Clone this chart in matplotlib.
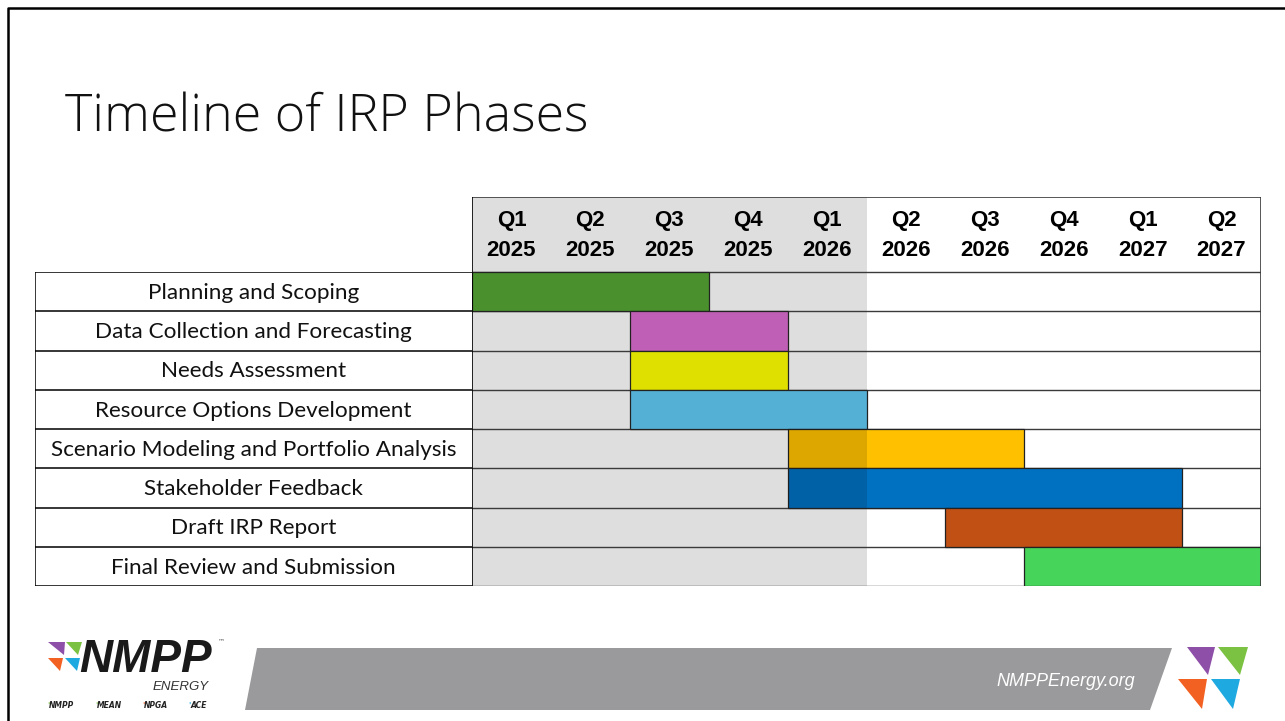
import matplotlib
matplotlib.use("Agg")
import matplotlib.pyplot as plt  # noqa: E402
from matplotlib.patches import Polygon  # noqa: E402

W, H = 1285, 721

quarters = ["Q1\n2025", "Q2\n2025", "Q3\n2025", "Q4\n2025", "Q1\n2026",
            "Q2\n2026", "Q3\n2026", "Q4\n2026", "Q1\n2027", "Q2\n2027"]
phases = ["Planning and Scoping", "Data Collection and Forecasting", "Needs Assessment",
          "Resource Options Development", "Scenario Modeling and Portfolio Analysis",
          "Stakeholder Feedback", "Draft IRP Report", "Final Review and Submission"]
start_q = [0, 2, 2, 2, 4, 4, 6, 7]
length_q = [3, 2, 2, 3, 3, 5, 3, 3]
n_shaded = 5  # Q1 2025 .. Q1 2026 greyed out

COLORS = ["#4a912d", "#bf5fb5", "#e0e000", "#55b0d6", "#ffc000",
          "#0070c0", "#c05014", "#47d45a"]
DIMMED = [False, False, False, False, True, True, False, False]
GREY_CELL = "#dedede"
LINE = "#3a3a3a"
PURPLE, LIME, ORANGE, CYAN = "#8e4fa8", "#7cc242", "#f26122", "#1fa9e1"


def px_axes(fig, x0, y0, x1, y1):
    return fig.add_axes([x0 / W, 1 - y1 / H, (x1 - x0) / W, (y1 - y0) / H])


fig = plt.figure(figsize=(W / 100, H / 100), dpi=100)

# background / decoration layer in pixel coords
bg = px_axes(fig, 0, 0, W, H)
bg.set_xlim(0, W); bg.set_ylim(H, 0); bg.axis("off")
bg.plot([8, 8, W], [H, 8, 8], color="black", lw=1.8, solid_capstyle="butt")
bg.text(65, 118, "Timeline of IRP Phases", fontsize=37.5, family="Open Sans",
        fontweight="light", va="center", ha="left", color="#111111")

# footer banner
bg.add_patch(Polygon([(245, 710), (257, 648), (1172, 648), (1150, 710)],
                     closed=True, color="#9a9a9c", lw=0))
bg.text(1135, 681, "NMPPEnergy.org", fontsize=13, style="italic", color="white",
        family="Liberation Sans", ha="right", va="center")
# right logo triangles
for pts, c in [([(1187, 647), (1215, 647), (1208, 675)], PURPLE),
               ([(1218, 647), (1248, 647), (1240, 675)], LIME),
               ([(1178, 679), (1207, 679), (1202, 709)], ORANGE),
               ([(1211, 679), (1240, 679), (1233, 709)], CYAN)]:
    bg.add_patch(Polygon(pts, closed=True, color=c, lw=0))
# left logo
for pts, c in [([(48, 642), (65, 642), (64, 655)], PURPLE),
               ([(66, 642), (82, 642), (78, 655)], LIME),
               ([(48, 658), (63, 658), (60, 671)], ORANGE),
               ([(65, 658), (80, 658), (77, 671)], CYAN)]:
    bg.add_patch(Polygon(pts, closed=True, color=c, lw=0))
bg.text(79, 672, "NMPP", fontsize=33, fontweight="heavy", style="italic",
        family="Liberation Sans", color="#1a1a1a", ha="left", va="baseline")
bg.text(218, 641, "™", fontsize=5, color="#555555", ha="left", va="center")
bg.text(209, 690, "ENERGY", fontsize=9.5, style="italic", family="Liberation Sans",
        color="#333333", ha="right", va="baseline")
for x, s, c in [(47, "NMPP", LIME), (95, "MEAN", LIME), (142, "NPGA", ORANGE),
                (188, "ACE", CYAN)]:
    bg.text(x, 706, "'", fontsize=5.5, fontweight="bold", color=c,
            ha="left", va="center")
    bg.text(x + 2, 706, s, fontsize=5.5, fontweight="bold", style="italic",
            color="#222222", ha="left", va="center")

# gantt grid
n = len(phases)
hdr = 75 / 39.25
ax = px_axes(fig, 472, 197, 1261, 586)
ax.set_xlim(0, len(quarters)); ax.set_ylim(n, -hdr); ax.axis("off")
ax.axvspan(0, n_shaded, color=GREY_CELL, lw=0, zorder=0)
for i, q in enumerate(quarters):
    ax.text(i + 0.5, -hdr / 2 + 0.03, q, ha="center", va="center", fontsize=16,
            fontweight="bold", family="Liberation Sans", linespacing=1.6)
for i in range(n + 1):
    ax.axhline(i, color=LINE, lw=1, zorder=1)
ax.axhline(-hdr, color=LINE, lw=1.2, zorder=1)
ax.axvline(0, color="black", lw=1.2, zorder=4)
ax.axvline(len(quarters), color=LINE, lw=1.2, zorder=4)

ypos = [i + 0.5 for i in range(n)]
ax.barh(ypos, length_q, left=start_q, height=1, color=COLORS,
        edgecolor="#222222", lw=0.9, zorder=2)
for y, s, ln, d in zip(ypos, start_q, length_q, DIMMED):
    if d:
        ax.barh(y, min(s + ln, n_shaded) - s, left=s, height=1, color="black",
                alpha=0.13, lw=0, zorder=3)

# label column
lab = px_axes(fig, 35, 272, 472, 586)
lab.set_xlim(0, 1); lab.set_ylim(n, 0); lab.axis("off")
for i in range(n + 1):
    lab.axhline(i, color="black", lw=1.1)
lab.axvline(0, color="black", lw=1.1)
for y, p in zip(ypos, phases):
    lab.text(0.5, y + 0.03, p, ha="center", va="center", fontsize=16.2, family="Lato",
             color="#111111")

fig.savefig("out.png", dpi=100)
